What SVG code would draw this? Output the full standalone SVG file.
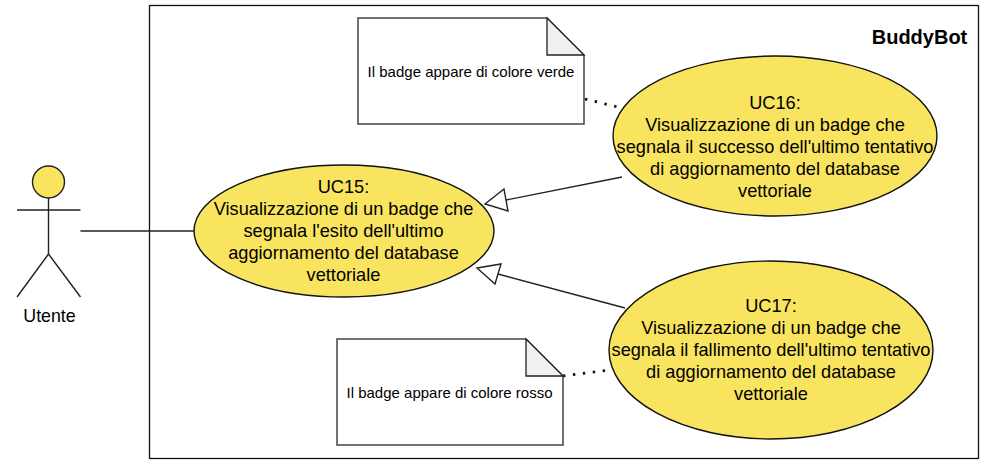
<svg xmlns="http://www.w3.org/2000/svg" width="987" height="466" viewBox="0 0 987 466">
<style>
text{font-family:"Liberation Sans",Arial,sans-serif;fill:#000;text-anchor:middle}
.uc{fill:#f9e45f;stroke:#111;stroke-width:1.4}
.uc-t{font-size:18.2px}
.note{fill:#fff;stroke:#444;stroke-width:1.5}
.fold{fill:#f0f0f0;stroke:#222;stroke-width:1.3}
.n-t{font-size:15px}
.l{fill:none;stroke:#222;stroke-width:1.4}
.a{fill:#fff;stroke:#222;stroke-width:1.4}
.d{fill:none;stroke:#111;stroke-width:2.8;stroke-dasharray:2.4 7.6}
</style>
<rect id="system" x="149.500" y="5.500" width="829" height="453" fill="#fff" stroke="#111" stroke-width="1.300"/>
<text x="919.500" y="44" style="font-size:20px;font-weight:bold">BuddyBot</text>
<g id="connectors">
<path class="l" d="M80.500 231H194"/>
<path class="l" d="M622 177L506 200"/>
<path class="a" d="M485 204L504 189L508 211Z"/>
<path class="l" d="M625 308L498 274"/>
<path class="a" d="M477 268L501 264L495 284Z"/>
<path class="d" d="M585 99L626 109"/>
<path class="d" d="M563 376L610 370"/>
</g>
<g id="actor" class="l">
<circle cx="48.500" cy="182" r="16" fill="#f9e45f" stroke="#222" stroke-width="1.400"/>
<path d="M48.500 198V254M17 210H80.500M48.500 254L17 297M48.500 254L80.500 297"/>
</g>
<text x="49.500" y="322" style="font-size:17.800px">Utente</text>
<g id="uc15"><ellipse class="uc" cx="344" cy="231" rx="150" ry="66"/>
<text class="uc-t" x="343.500" y="193">UC15:</text>
<text class="uc-t" x="343.500" y="215">Visualizzazione di un badge che</text>
<text class="uc-t" x="343.500" y="237">segnala l'esito dell'ultimo</text>
<text class="uc-t" x="343.500" y="259">aggiornamento del database</text>
<text class="uc-t" x="343.500" y="281">vettoriale</text></g>
<g id="uc16"><ellipse class="uc" cx="775" cy="136" rx="162" ry="80"/>
<text class="uc-t" x="775" y="109">UC16:</text>
<text class="uc-t" x="775" y="131">Visualizzazione di un badge che</text>
<text class="uc-t" x="775" y="153">segnala il successo dell'ultimo tentativo</text>
<text class="uc-t" x="775" y="175">di aggiornamento del database</text>
<text class="uc-t" x="775" y="197">vettoriale</text></g>
<g id="uc17"><ellipse class="uc" cx="771" cy="350" rx="162" ry="89"/>
<text class="uc-t" x="771" y="312">UC17:</text>
<text class="uc-t" x="771" y="334">Visualizzazione di un badge che</text>
<text class="uc-t" x="771" y="356">segnala il fallimento dell'ultimo tentativo</text>
<text class="uc-t" x="771" y="378">di aggiornamento del database</text>
<text class="uc-t" x="771" y="400">vettoriale</text></g>
<g id="note16"><path class="note" d="M358 18H547L584 55V124H358Z"/><path class="fold" d="M547 18V55H584Z"/>
<text class="n-t" x="471" y="77">Il badge appare di colore verde</text></g>
<g id="note17"><path class="note" d="M337 339H526L563 376V445H337Z"/><path class="fold" d="M526 339V376H563Z"/>
<text class="n-t" x="449.500" y="398">Il badge appare di colore rosso</text></g>
</svg>
